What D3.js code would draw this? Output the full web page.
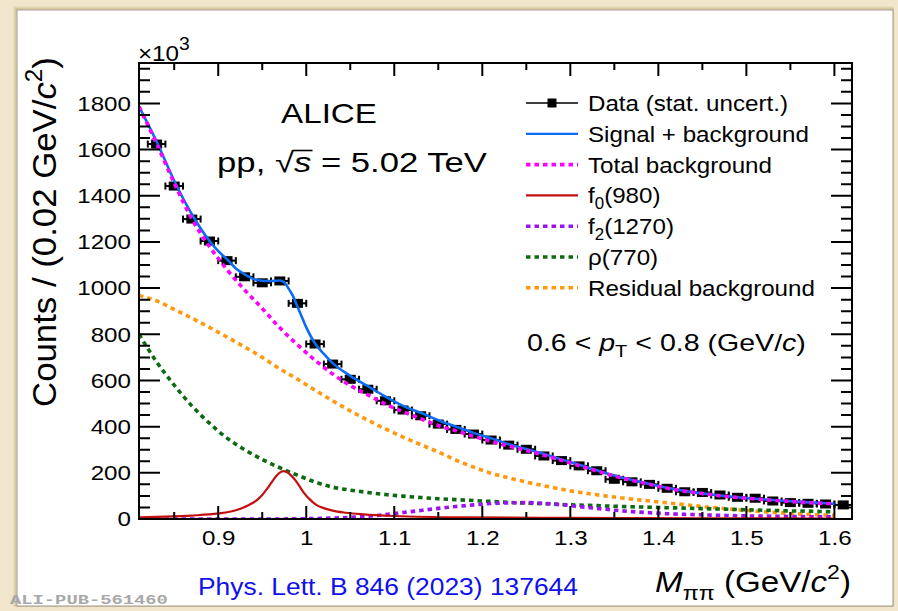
<!DOCTYPE html>
<html>
<head>
<meta charset="utf-8">
<script src="https://cdn.jsdelivr.net/npm/d3@7"></script>
<style>
  html, body { margin: 0; padding: 0; background: #f1e6cb; }
  svg { display: block; font-family: "Liberation Sans", Arial, Helvetica, sans-serif; }
</style>
</head>
<body>
<svg id="chart" width="898" height="611"></svg>
<script>
// ---- Measured π+π− invariant-mass spectrum, 0.6 < pT < 0.8 GeV/c (counts ×10^3 per 0.02 GeV/c²) ----
const dataMass = [0.83, 0.85, 0.87, 0.89, 0.91, 0.93, 0.95, 0.97, 0.99, 1.01,
                  1.03, 1.05, 1.07, 1.09, 1.11, 1.13, 1.15, 1.17, 1.19, 1.21,
                  1.23, 1.25, 1.27, 1.29, 1.31, 1.33, 1.35, 1.37, 1.39, 1.41,
                  1.43, 1.45, 1.47, 1.49, 1.51, 1.53, 1.55, 1.57, 1.59, 1.61];
const dataCounts = [1624, 1442, 1299, 1204, 1119, 1049, 1023, 1031, 934, 758,
                    671, 605, 562, 512, 472, 447, 411, 388, 368, 342,
                    320, 302, 273, 253, 230, 209, 172, 161, 150, 133,
                    118, 115, 104, 94, 90, 78, 71, 68, 65, 61];
const binHalfWidth = 0.01;

// ---- Fit components sampled along the fit range ----
const fitMass = [0.81, 0.83, 0.85, 0.87, 0.89, 0.91, 0.93, 0.95, 0.97, 0.99,
                 1.01, 1.03, 1.05, 1.07, 1.09, 1.11, 1.13, 1.15, 1.17, 1.19,
                 1.21, 1.23, 1.25, 1.27, 1.29, 1.31, 1.33, 1.35, 1.37, 1.39,
                 1.41, 1.43, 1.45, 1.47, 1.49, 1.51, 1.53, 1.55, 1.57, 1.59, 1.60];
const totalBackground = [1786, 1625, 1455, 1300, 1180, 1080, 992, 912, 828, 755,
                         688, 628, 578, 538, 497, 465, 434, 405, 382, 358,
                         336, 316, 297, 276, 254, 231, 208, 186, 167, 150,
                         133, 120, 110, 101, 93, 87, 81, 76, 71, 67, 65];
const residualBackground = [968, 945, 908, 870, 830, 788, 745, 700, 650, 606,
                            558, 512, 468, 428, 390, 355, 322, 290, 255, 225,
                            198, 178, 160, 144, 129, 116, 105, 95, 86, 78,
                            70, 62, 54, 47, 40, 34, 29, 24, 20, 17, 16];
const rho770 = [800, 680, 580, 490, 415, 350, 300, 258, 222, 190,
                160, 138, 125, 115, 106, 99, 93, 88, 84, 80,
                76, 72, 69, 66, 63, 60, 58, 55, 53, 51,
                49, 47, 45, 43, 41, 39, 37, 35, 34, 32, 31];
const f2_1270 = [0, 0, 0, 0, 0, 0, 0, 0, 0, 1,
                 2, 4, 7, 12, 19, 28, 37, 46, 54, 61,
                 67, 70, 71, 68, 62, 54, 46, 38, 32, 27,
                 23, 20, 18, 16, 14, 13, 12, 11, 10, 10, 9];

const signalMass = [0.81, 0.83, 0.85, 0.87, 0.89, 0.90, 0.91, 0.92, 0.93, 0.94,
                    0.95, 0.96, 0.97, 0.975, 0.98, 0.985, 0.99, 0.995, 1.00, 1.01,
                    1.02, 1.03, 1.05, 1.07, 1.09, 1.11, 1.13, 1.15, 1.17, 1.19,
                    1.21, 1.23, 1.25, 1.27, 1.29, 1.31, 1.33, 1.35, 1.37, 1.39,
                    1.41, 1.43, 1.45, 1.47, 1.49, 1.51, 1.53, 1.55, 1.57, 1.59, 1.60];
const signalPlusBackground = [1786, 1635, 1465, 1320, 1205, 1160, 1125, 1085, 1060, 1040,
                              1032, 1031, 1033, 1025, 998, 965, 920, 875, 830, 760,
                              715, 675, 620, 575, 530, 490, 460, 428, 400, 373,
                              350, 324, 303, 281, 258, 235, 211, 188, 169, 152,
                              135, 121, 111, 102, 94, 88, 82, 77, 72, 68, 66];

const f0Mass = [0.81, 0.84, 0.87, 0.90, 0.92, 0.935, 0.945, 0.95, 0.955, 0.96,
                0.965, 0.97, 0.974, 0.978, 0.983, 0.988, 0.993, 0.998, 1.004, 1.011,
                1.02, 1.03, 1.045, 1.065, 1.10, 1.18, 1.30, 1.45, 1.60];
const f0_980 = [7, 10, 15, 24, 38, 61, 85, 104, 128, 155,
                182, 201, 207, 203, 188, 166, 138, 110, 85, 62,
                47, 36, 27, 20, 13, 7, 5, 3, 2];

// ---- Axis ticks ----
const xMajorTicks = [0.9, 1.0, 1.1, 1.2, 1.3, 1.4, 1.5, 1.6];
const xTickLabels = ["0.9", "1", "1.1", "1.2", "1.3", "1.4", "1.5", "1.6"];
const xMinorTicks = [0.85, 0.95, 1.05, 1.15, 1.25, 1.35, 1.45, 1.55];
const yMajorTicks = [0, 200, 400, 600, 800, 1000, 1200, 1400, 1600, 1800];
const yTickLabels = ["0", "200", "400", "600", "800", "1000", "1200", "1400", "1600", "1800"];
const yMinorTicks = [50, 100, 150, 250, 300, 350, 450, 500, 550, 650, 700, 750, 850, 900, 950,
                     1050, 1100, 1150, 1250, 1300, 1350, 1450, 1500, 1550, 1650, 1700, 1750,
                     1850, 1900, 1950];

// ---- Legend ----
const legendEntries = [
  { key: "data",     label: [{ s: "Data (stat. uncert.)" }] },
  { key: "signal",   label: [{ s: "Signal + background" }] },
  { key: "total",    label: [{ s: "Total background" }] },
  { key: "f0",       label: [{ s: "f" }, { s: "0", sub: true }, { s: "(980)" }] },
  { key: "f2",       label: [{ s: "f" }, { s: "2", sub: true }, { s: "(1270)" }] },
  { key: "rho",      label: [{ s: "ρ(770)" }] },
  { key: "residual", label: [{ s: "Residual background" }] }
];

const curveStyle = {
  signal:   { color: "#0a6cf2", width: 2.6, dash: null },
  total:    { color: "#ff00ff", width: 3.6, dash: "4.5 4" },
  f0:       { color: "#c40f0f", width: 2.2, dash: null },
  f2:       { color: "#9a14f2", width: 3.6, dash: "4.5 4" },
  rho:      { color: "#0d6a12", width: 3.6, dash: "4.5 4" },
  residual: { color: "#ff9a10", width: 3.6, dash: "4.5 4" }
};

// ---- Layout ----
const W = 898, H = 611;
const plot = { left: 139, right: 852, top: 63, bottom: 519 };

const svg = d3.select("#chart");

// page panel with a soft edge
svg.append("rect").attr("x", 0).attr("y", 0).attr("width", W).attr("height", H).attr("fill", "#f1e6cb");
[[3, "#e4d6b4"], [2, "#d9c9a4"], [1, "#c9b68e"]].forEach(([o, c]) => {
  svg.append("rect").attr("x", 17 - o).attr("y", 10 - o).attr("width", 876 + o).attr("height", 596 + o)
    .attr("fill", "none").attr("stroke", c).attr("stroke-width", 1);
});
svg.append("rect").attr("x", 17).attr("y", 10).attr("width", 876).attr("height", 596)
  .attr("fill", "#ffffff").attr("stroke", "#a39d90").attr("stroke-width", 1);

const defs = svg.append("defs");
defs.append("clipPath").attr("id", "plotClip").append("rect")
  .attr("x", plot.left).attr("y", plot.top)
  .attr("width", plot.right - plot.left).attr("height", plot.bottom - plot.top);

const x = d3.scaleLinear().domain([0.81, 1.62]).range([plot.left, plot.right]);
const y = d3.scaleLinear().domain([0, 1975]).range([plot.bottom, plot.top]);

// ---- Text helper: rich text with italic / sub / superscript parts, optional width fit ----
function richText(parent, px, py, parts, opt) {
  const size = opt.size;
  const outer = parent.append("g")
    .attr("transform", `translate(${px},${py})` + (opt.rotate ? ` rotate(${opt.rotate})` : ""));
  const inner = outer.append("g");
  const t = inner.append("text")
    .attr("text-anchor", opt.anchor || "start")
    .attr("font-size", size)
    .attr("fill", opt.fill || "#000")
    .attr("font-family", opt.family || null)
    .attr("font-weight", opt.weight || null);
  let shift = 0;
  parts.forEach(p => {
    const small = p.sup || p.sub;
    const target = p.sup ? -size * (opt.supRise || 0.42) : p.sub ? size * 0.25 : 0;
    t.append("tspan")
      .attr("dy", target - shift)
      .attr("font-size", p.sup ? size * (opt.supScale || 0.7) : small ? size * 0.7 : size)
      .attr("font-style", p.it ? "italic" : null)
      .text(p.s);
    shift = target;
  });
  let sx = opt.sx || 1;
  if (opt.width) sx = opt.width / t.node().getComputedTextLength();
  inner.attr("transform", `scale(${sx},1)`);
  return { g: inner, t, sx };
}

// ---- Data: error bars and markers ----
const dataG = svg.append("g").attr("clip-path", "url(#plotClip)");
const points = dataMass.map((m, i) => ({ m, v: dataCounts[i] }));
const pts = dataG.selectAll("g.pt").data(points).join("g").attr("class", "pt");
pts.append("line")
  .attr("x1", d => x(d.m - binHalfWidth)).attr("x2", d => x(d.m + binHalfWidth))
  .attr("y1", d => y(d.v)).attr("y2", d => y(d.v))
  .attr("stroke", "#000").attr("stroke-width", 2);
[-1, 1].forEach(s => {
  pts.append("line")
    .attr("x1", d => x(d.m + s * binHalfWidth)).attr("x2", d => x(d.m + s * binHalfWidth))
    .attr("y1", d => y(d.v) - 3.5).attr("y2", d => y(d.v) + 3.5)
    .attr("stroke", "#000").attr("stroke-width", 2);
});
pts.append("rect")
  .attr("x", d => x(d.m) - 5.5).attr("y", d => y(d.v) - 4.5)
  .attr("width", 11).attr("height", 9).attr("fill", "#000");

// ---- Fit curves ----
const curveGen = d3.line().x(d => x(d[0])).y(d => y(d[1])).curve(d3.curveMonotoneX);
const curvesG = svg.append("g").attr("clip-path", "url(#plotClip)");
function drawCurve(ms, vs, st) {
  curvesG.append("path")
    .attr("d", curveGen(ms.map((m, i) => [m, vs[i]])))
    .attr("fill", "none").attr("stroke", st.color).attr("stroke-width", st.width)
    .attr("stroke-dasharray", st.dash);
}
drawCurve(fitMass, residualBackground, curveStyle.residual);
drawCurve(fitMass, rho770, curveStyle.rho);
drawCurve(fitMass, f2_1270, curveStyle.f2);
drawCurve(f0Mass, f0_980, curveStyle.f0);
drawCurve(signalMass, signalPlusBackground, curveStyle.signal);
drawCurve(fitMass, totalBackground, curveStyle.total);

// ---- Axes: tick labels from d3 axes ----
const tickFont = 21, tickSx = 1.15;
function labelsOnly(g) {
  g.select(".domain").remove();
  g.selectAll(".tick line").remove();
  g.selectAll("text").attr("font-size", tickFont).attr("fill", "#000")
    .attr("font-family", "Liberation Sans, Arial, sans-serif")
    .attr("transform", `scale(${tickSx},1)`);
}
svg.append("g").attr("transform", `translate(0,${plot.bottom})`)
  .call(d3.axisBottom(x).tickValues(xMajorTicks).tickSize(0).tickPadding(11)
    .tickFormat((d, i) => xTickLabels[i])).call(labelsOnly);
svg.append("g").attr("transform", `translate(${plot.left},0)`)
  .call(d3.axisLeft(y).tickValues(yMajorTicks).tickSize(0).tickPadding(7)
    .tickFormat((d, i) => yTickLabels[i])).call(labelsOnly);

// ---- Frame outline and its tick marks, one path ----
const frame = d3.path();
frame.moveTo(plot.left, plot.top);
frame.lineTo(plot.right, plot.top);
frame.lineTo(plot.right, plot.bottom);
frame.lineTo(plot.left, plot.bottom);
frame.closePath();
function addXTicks(values, len) {
  values.forEach(v => {
    const px = x(v);
    frame.moveTo(px, plot.bottom); frame.lineTo(px, plot.bottom - len);
    frame.moveTo(px, plot.top);    frame.lineTo(px, plot.top + len);
  });
}
function addYTicks(values, len) {
  values.forEach(v => {
    const py = y(v);
    frame.moveTo(plot.left, py);  frame.lineTo(plot.left + len, py);
    frame.moveTo(plot.right, py); frame.lineTo(plot.right - len, py);
  });
}
addXTicks(xMajorTicks, 13);
addXTicks(xMinorTicks, 7);
addYTicks(yMajorTicks, 21);
addYTicks(yMinorTicks, 11);
svg.append("path").attr("d", frame.toString())
  .attr("fill", "none").attr("stroke", "#000").attr("stroke-width", 2);

// exponent marker of the y axis
richText(svg, 138, 61, [{ s: "×10" }, { s: "3", sup: true }],
  { size: 22, sx: 1.1, supScale: 0.8, supRise: 0.5 });

// axis titles
richText(svg, 56, 232,
  [{ s: "Counts / (0.02 GeV/" }, { s: "c", it: true }, { s: "2", sup: true }, { s: ")" }],
  { size: 33, anchor: "middle", rotate: -90, width: 350 });
richText(svg, 851, 592,
  [{ s: "M", it: true }, { s: "ππ", sub: true }, { s: " (GeV/" }, { s: "c", it: true }, { s: "2", sup: true }, { s: ")" }],
  { size: 30, anchor: "end", width: 196 });

// ---- Header texts ----
richText(svg, 329, 123, [{ s: "ALICE" }], { size: 28, anchor: "middle", width: 96 });
const energy = richText(svg, 352, 172,
  [{ s: "pp, √" }, { s: "s", it: true }, { s: " = 5.02 TeV" }],
  { size: 28, anchor: "middle", width: 270 });
{
  const node = energy.t.node();
  const rootStart = node.getEndPositionOfChar(4).x - 1;
  const sEnd = node.getEndPositionOfChar(5).x + 1;
  energy.g.append("line")
    .attr("x1", rootStart).attr("x2", sEnd)
    .attr("y1", -21.5).attr("y2", -21.5)
    .attr("stroke", "#000").attr("stroke-width", 1.6);
}

richText(svg, 527, 351,
  [{ s: "0.6 < " }, { s: "p", it: true }, { s: "T", sub: true }, { s: " < 0.8 (GeV/" }, { s: "c", it: true }, { s: ")" }],
  { size: 23, width: 279 });

// ---- Legend ----
const legendG = svg.append("g");
const legendTop = 103, legendStep = 30.8;
const legendLineX1 = 526, legendLineX2 = 578, legendTextX = 588;
const legendFont = 23;

// common horizontal scale, set by the "Signal + background" row
const probe = legendG.append("text").attr("font-size", legendFont).text("Signal + background");
const legendSx = 221 / probe.node().getComputedTextLength();
probe.remove();

legendEntries.forEach((e, i) => {
  const cy = legendTop + i * legendStep;
  if (e.key === "data") {
    legendG.append("line").attr("x1", legendLineX1).attr("x2", legendLineX2)
      .attr("y1", cy).attr("y2", cy).attr("stroke", "#000").attr("stroke-width", 1.6);
    legendG.append("rect").attr("x", (legendLineX1 + legendLineX2) / 2 - 4.5).attr("y", cy - 4.5)
      .attr("width", 9).attr("height", 9).attr("fill", "#000");
  } else {
    const st = curveStyle[e.key];
    legendG.append("line").attr("x1", legendLineX1).attr("x2", legendLineX2)
      .attr("y1", cy).attr("y2", cy).attr("stroke", st.color)
      .attr("stroke-width", st.dash ? 3.6 : 2.2).attr("stroke-dasharray", st.dash);
  }
  richText(legendG, legendTextX, cy + 8, e.label, { size: legendFont, sx: legendSx });
});

// ---- Footer ----
richText(svg, 198, 595, [{ s: "Phys. Lett. B 846 (2023) 137644" }],
  { size: 24, fill: "#1010ee", width: 380 });
richText(svg, 10, 604, [{ s: "ALI-PUB-561460" }],
  { size: 13, fill: "#a8a8a8", family: "Liberation Mono, DejaVu Sans Mono, monospace", weight: "bold", width: 158 });
</script>
</body>
</html>
